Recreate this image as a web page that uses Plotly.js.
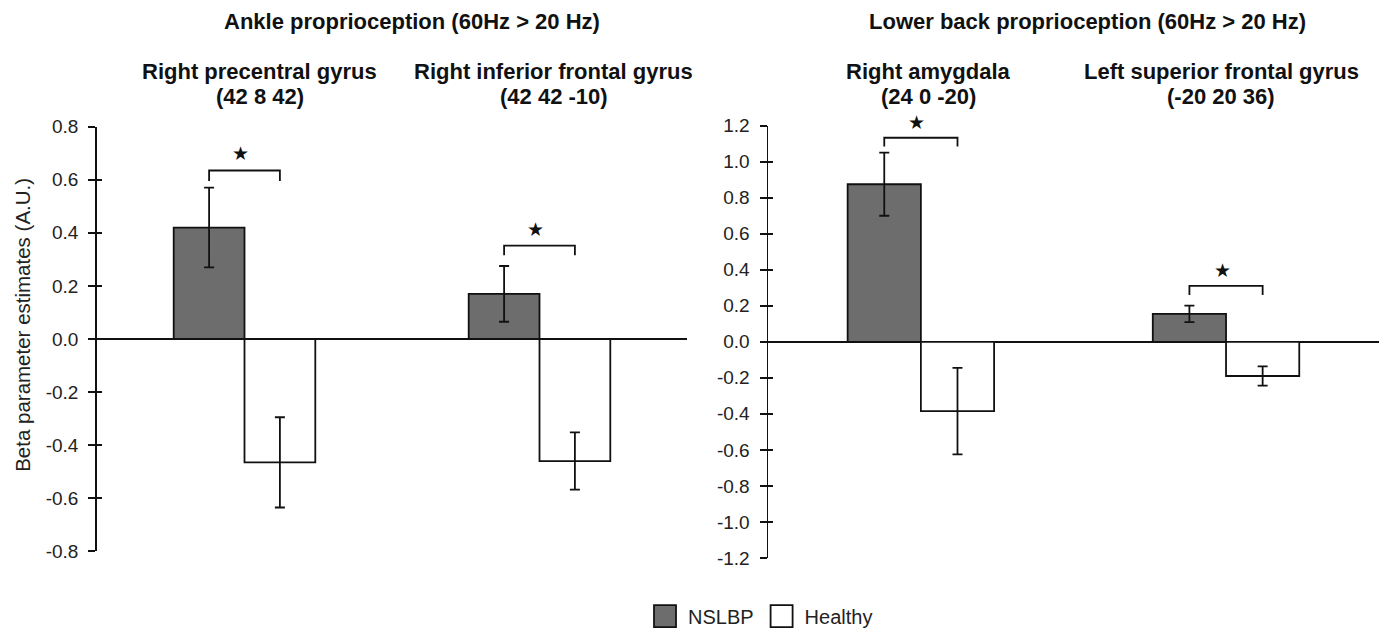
<!DOCTYPE html>
<html>
<head>
<meta charset="utf-8">
<script src="https://cdn.plot.ly/plotly-3.0.1.min.js"></script>
<style>
  html, body { margin: 0; padding: 0; background: #ffffff; }
  #chart { width: 1385px; height: 636px; }
</style>
</head>
<body>
<div id="chart"></div>
<script>
// ---- Data ----
const panelTitles = ['Ankle proprioception (60Hz > 20 Hz)', 'Lower back proprioception (60Hz > 20 Hz)'];
const regionsLeft = ['Right precentral gyrus', 'Right inferior frontal gyrus'];
const coordsLeft = ['(42 8 42)', '(42 42 -10)'];
const regionsRight = ['Right amygdala', 'Left superior frontal gyrus'];
const coordsRight = ['(24 0 -20)', '(-20 20 36)'];
const groupPos = [0, 1];

const nslbpLeft = [0.42, 0.17];
const nslbpLeftErr = [0.15, 0.105];
const healthyLeft = [-0.465, -0.46];
const healthyLeftErr = [0.17, 0.108];

const nslbpRight = [0.875, 0.155];
const nslbpRightErr = [0.175, 0.046];
const healthyRight = [-0.385, -0.19];
const healthyRightErr = [0.24, 0.053];

// significance brackets (top of bracket, bottom of legs); a star sits above each
const sigTopLeft = [0.635, 0.352];
const sigLegLeft = [0.595, 0.316];
const sigTopRight = [1.133, 0.311];
const sigLegRight = [1.084, 0.26];

const yTicksLeft = [-0.8, -0.6, -0.4, -0.2, 0.0, 0.2, 0.4, 0.6, 0.8];
const yTicksRight = [-1.2, -1.0, -0.8, -0.6, -0.4, -0.2, 0.0, 0.2, 0.4, 0.6, 0.8, 1.0, 1.2];
const seriesNames = ['NSLBP', 'Healthy'];

// ---- Styling ----
const FONT = 'Liberation Sans, Arial, Helvetica, sans-serif';
const DARK = '#6d6d6d';
const INK = '#111111';
const BAR_OFF = 0.12; // half of one bar's width in category units (bargap 0.52, 2 bars)

function barTrace(name, vals, errs, color, xa, ya, showLegend) {
  return {
    type: 'bar', name: name, x: groupPos, y: vals,
    xaxis: xa, yaxis: ya, showlegend: showLegend, legendgroup: name,
    marker: { color: color, line: { color: INK, width: 1.8 } },
    error_y: { type: 'data', array: errs, visible: true, color: INK, thickness: 1.8, width: 5 },
    hoverinfo: 'y'
  };
}

function bracketTraces(tops, legs, xa, ya) {
  return groupPos.map((g, i) => ({
    type: 'scatter', mode: 'lines', xaxis: xa, yaxis: ya, showlegend: false, hoverinfo: 'skip',
    x: [g - BAR_OFF, g - BAR_OFF, g + BAR_OFF, g + BAR_OFF],
    y: [legs[i], tops[i], tops[i], legs[i]],
    line: { color: INK, width: 1.8 }, cliponaxis: false
  }));
}

// empty helper traces so the overlay tick axes get drawn (no marks)
function tickHelper(xa, ya) {
  return { type: 'scatter', mode: 'markers', x: [], y: [], xaxis: xa, yaxis: ya, showlegend: false, hoverinfo: 'skip' };
}

const traces = [
  barTrace(seriesNames[0], nslbpLeft, nslbpLeftErr, DARK, 'x', 'y', true),
  barTrace(seriesNames[1], healthyLeft, healthyLeftErr, '#ffffff', 'x', 'y', true),
  barTrace(seriesNames[0], nslbpRight, nslbpRightErr, DARK, 'x2', 'y2', false),
  barTrace(seriesNames[1], healthyRight, healthyRightErr, '#ffffff', 'x2', 'y2', false),
  ...bracketTraces(sigTopLeft, sigLegLeft, 'x', 'y'),
  ...bracketTraces(sigTopRight, sigLegRight, 'x2', 'y2'),
  tickHelper('x', 'y3'),
  tickHelper('x2', 'y4')
];

const W = 1385, H = 636;
const domXL = [97 / W, 687 / W];
const domXR = [768.3 / W, 1378.6 / W];
const domYL = [1 - 558.3 / H, 1 - 128.3 / H];
const domYR = [1 - 565 / H, 1 - 127.3 / H];

const fmt = v => v.toFixed(1); // plain hyphen-minus like the reference

function xAxis(dom, anchor) {
  return { domain: dom, anchor: anchor, range: [-0.5, 1.5], visible: false, fixedrange: true };
}
function yAxis(dom, anchor, range, ticks) {
  return {
    domain: dom, anchor: anchor, range: range, tickmode: 'array', tickvals: ticks, ticktext: ticks.map(fmt),
    showline: true, linecolor: INK, linewidth: 1.8, mirror: false,
    ticks: 'outside', ticklen: 7, tickwidth: 1.8, tickcolor: INK,
    zeroline: true, zerolinecolor: INK, zerolinewidth: 1.6,
    showgrid: false, ticklabelstandoff: 6,
    tickfont: { family: FONT, size: 19, color: '#222222' }, fixedrange: true
  };
}
function yOverlay(dom, anchor, over, range, ticks) {
  return {
    domain: dom, anchor: anchor, overlaying: over, range: range, tickmode: 'array', tickvals: ticks,
    showline: false, zeroline: false, showgrid: false, showticklabels: false,
    ticks: 'inside', ticklen: 5, tickwidth: 1.8, tickcolor: INK, fixedrange: true
  };
}

const annotations = [];
const titleFont = { family: FONT, size: 22, color: '#111111' };
// panel titles
[[0.2975, panelTitles[0]], [0.785, panelTitles[1]]].forEach(([x, t]) => {
  annotations.push({ xref: 'paper', yref: 'paper', x: x, y: 1 - 22 / H, xanchor: 'center', yanchor: 'middle',
    text: '<b>' + t + '</b>', showarrow: false, font: titleFont });
});
// group titles (two separate lines)
const shiftL = [15, 14], shiftR = [8, -5];
function groupTitle(xref, g, shift, line, yPix) {
  annotations.push({ xref: xref, yref: 'paper', x: g, xshift: shift, y: 1 - yPix / H, xanchor: 'center', yanchor: 'middle',
    text: '<b>' + line + '</b>', showarrow: false, font: titleFont });
}
groupPos.forEach((g, i) => {
  groupTitle('x', g, shiftL[i], regionsLeft[i], 72);
  groupTitle('x', g, shiftL[i], coordsLeft[i], 98);
  groupTitle('x2', g, shiftR[i], regionsRight[i], 72);
  groupTitle('x2', g, shiftR[i], coordsRight[i], 98);
});
// significance stars: anchored on each bracket, lifted a fixed number of pixels
const starFont = { family: 'DejaVu Sans, sans-serif', size: 19, color: INK };
groupPos.forEach((g, i) => {
  annotations.push({ xref: 'x', yref: 'y', x: g, y: sigTopLeft[i], xshift: -4, yshift: 17, text: '★', showarrow: false,
    xanchor: 'center', yanchor: 'middle', font: starFont });
  annotations.push({ xref: 'x2', yref: 'y2', x: g, y: sigTopRight[i], xshift: -4, yshift: 16, text: '★', showarrow: false,
    xanchor: 'center', yanchor: 'middle', font: starFont });
});
// y axis title
annotations.push({ xref: 'paper', yref: 'paper', x: 23 / W, y: 1 - 329 / H, xanchor: 'center', yanchor: 'middle',
  textangle: -90, text: 'Beta parameter estimates (A.U.)', showarrow: false,
  font: { family: FONT, size: 20.5, color: '#222222' } });

const layout = {
  width: W, height: H,
  margin: { l: 0, r: 0, t: 0, b: 0 },
  paper_bgcolor: '#ffffff', plot_bgcolor: 'rgba(0,0,0,0)',
  barmode: 'group', bargap: 0.52, bargroupgap: 0,
  font: { family: FONT, color: '#222222' },
  xaxis: xAxis(domXL, 'y'),
  yaxis: yAxis(domYL, 'x', [-0.8, 0.8], yTicksLeft),
  xaxis2: xAxis(domXR, 'y2'),
  yaxis2: yAxis(domYR, 'x2', [-1.2, 1.2], yTicksRight),
  yaxis3: yOverlay(domYL, 'x', 'y', [-0.8, 0.8], yTicksLeft),
  yaxis4: yOverlay(domYR, 'x2', 'y2', [-1.2, 1.2], yTicksRight),
  showlegend: true,
  legend: {
    orientation: 'h', x: 760 / W, xanchor: 'center', y: 1 - 624 / H, yanchor: 'middle',
    font: { family: FONT, size: 20, color: '#222222' }, bgcolor: 'rgba(0,0,0,0)',
    traceorder: 'normal', itemwidth: 36, itemclick: false, itemdoubleclick: false
  },
  annotations: annotations
};

Plotly.newPlot('chart', traces, layout, { displayModeBar: false, staticPlot: true }).then(() => {
  document.querySelectorAll('.legendpoints path').forEach(p => {
    p.setAttribute('d', 'M11,11H-11V-11H11Z');
  });
});
</script>
</body>
</html>
